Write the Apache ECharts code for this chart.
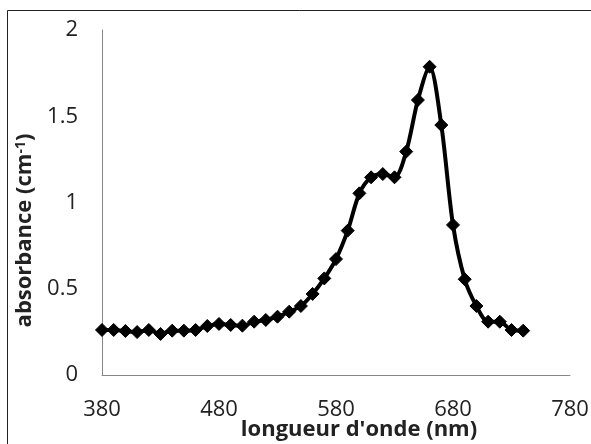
<!DOCTYPE html>
<html><head><meta charset="utf-8">
<script src="https://cdn.jsdelivr.net/npm/echarts@6/dist/echarts.min.js"></script>
<style>html,body{margin:0;padding:0;background:#fff}#c{width:591px;height:444px}</style>
</head><body><div id="c"></div>
<script>
const wavelengths = [380,390,400,410,420,430,440,450,460,470,480,490,500,510,520,530,540,550,560,570,580,590,600,610,620,630,640,650,660,670,680,690,700,710,720,730,740];
const absorbance = [0.261,0.261,0.255,0.249,0.261,0.238,0.257,0.257,0.261,0.284,0.296,0.29,0.286,0.309,0.319,0.338,0.367,0.40,0.47,0.56,0.672,0.837,1.053,1.146,1.165,1.146,1.295,1.594,1.787,1.449,0.87,0.555,0.40,0.309,0.309,0.261,0.257];
const xTicks = [380,480,580,680,780];
const yTicks = [0,0.5,1,1.5,2];

const chart = echarts.init(document.getElementById('c'));
const font = '"Open Sans", "Liberation Sans", sans-serif';
chart.setOption({
  animation:false,
  grid:{left:102,right:21,top:30,bottom:69,containLabel:false,outerBoundsMode:'none'},
  xAxis:{type:'value',min:xTicks[0],max:xTicks[xTicks.length-1],interval:100,
    axisLine:{show:true,lineStyle:{color:'#868686',width:1}},axisTick:{show:false},splitLine:{show:false},
    axisLabel:{margin:24,color:'#222',fontSize:22,fontFamily:font},
    name:"longueur d'onde (nm)",nameLocation:'middle',nameGap:44,nameMoveOverlap:false,
    nameTextStyle:{fontSize:22,fontWeight:'bold',color:'#222',fontFamily:font,padding:[0,0,0,46]}},
  yAxis:{type:'value',min:yTicks[0],max:yTicks[yTicks.length-1],interval:0.5,
    axisLine:{show:true,lineStyle:{color:'#868686',width:1}},axisTick:{show:false},splitLine:{show:false},
    axisLabel:{margin:24,color:'#222',fontSize:22,fontFamily:font},
    name:'absorbance (cm{sup|-1})',nameLocation:'middle',nameGap:66,nameRotate:90,
    nameTextStyle:{fontSize:22,fontWeight:'bold',color:'#222',fontFamily:font,padding:[0,56,0,0],
      rich:{sup:{fontSize:14,fontWeight:'bold',verticalAlign:'top',color:'#222',fontFamily:font,padding:[0,0,8,0]}}}},
  series:[{type:'line',data:wavelengths.map((w,i)=>[w,absorbance[i]]),smooth:0.3,
    symbol:'diamond',symbolSize:13,showSymbol:true,
    lineStyle:{color:'#000',width:4},itemStyle:{color:'#000',borderColor:'#000'}}],
  graphic:[
    {type:'line',shape:{x1:7.5,y1:10.5,x2:7.5,y2:444},style:{stroke:'#222',lineWidth:1}},
    {type:'line',shape:{x1:7.5,y1:10.5,x2:591,y2:10.5},style:{stroke:'#222',lineWidth:1}}
  ]
});
</script></body></html>
